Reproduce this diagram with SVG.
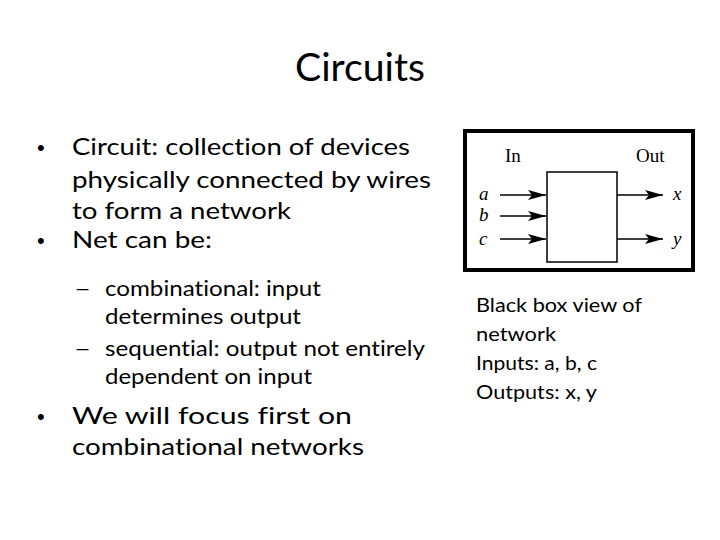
<svg xmlns="http://www.w3.org/2000/svg" width="720" height="540" viewBox="0 0 720 540">
<defs>
<style>
.t{font-family:Lato,"Liberation Sans",sans-serif;fill:#000;font-variant-ligatures:none}
.title{font-size:38px}
.b1{font-size:24px}
.b2{font-size:21px}
.side{font-size:19px}
.dot{font-family:"Liberation Sans",sans-serif;font-size:22px;fill:#000}
.fig{font-family:"Liberation Serif","DejaVu Serif",serif;fill:#000;font-size:19px}
.it{font-style:italic}
.wire{stroke:#000;stroke-width:1.3;fill:none}
</style>
<marker id="ah" viewBox="0 0 18 10" refX="18" refY="5" markerWidth="18" markerHeight="10" markerUnits="userSpaceOnUse" orient="auto">
<path d="M0,0 L18,5 L0,10 L4,5 Z" fill="#000"/>
</marker>
</defs>
<rect width="720" height="540" fill="#fff"/>
<g id="title"><text class="t title" x="295" y="81" textLength="130" lengthAdjust="spacingAndGlyphs">Circuits</text></g>
<g id="bullets">
<text class="dot" x="37" y="155">•</text>
<text class="t b1" x="72" y="155" textLength="338" lengthAdjust="spacingAndGlyphs">Circuit: collection of devices</text>
<text class="t b1" x="72" y="188" textLength="359" lengthAdjust="spacingAndGlyphs">physically connected by wires</text>
<text class="t b1" x="72" y="219" textLength="219" lengthAdjust="spacingAndGlyphs">to form a network</text>
<text class="dot" x="37" y="248">•</text>
<text class="t b1" x="72" y="248" textLength="140" lengthAdjust="spacingAndGlyphs">Net can be:</text>
<text class="t b2" x="74" y="296" textLength="17" lengthAdjust="spacingAndGlyphs">–</text>
<text class="t b2" x="105" y="296" textLength="216" lengthAdjust="spacingAndGlyphs">combinational: input</text>
<text class="t b2" x="105" y="324" textLength="196" lengthAdjust="spacingAndGlyphs">determines output</text>
<text class="t b2" x="74" y="356" textLength="17" lengthAdjust="spacingAndGlyphs">–</text>
<text class="t b2" x="105" y="356" textLength="320" lengthAdjust="spacingAndGlyphs">sequential: output not entirely</text>
<text class="t b2" x="105" y="384" textLength="207" lengthAdjust="spacingAndGlyphs">dependent on input</text>
<text class="dot" x="37" y="424">•</text>
<text class="t b1" x="72" y="424" textLength="280" lengthAdjust="spacingAndGlyphs">We will focus first on</text>
<text class="t b1" x="72" y="455" textLength="292" lengthAdjust="spacingAndGlyphs">combinational networks</text>
</g>
<g id="caption">
<text class="t side" x="476" y="312" textLength="166" lengthAdjust="spacingAndGlyphs">Black box view of</text>
<text class="t side" x="476" y="341" textLength="80" lengthAdjust="spacingAndGlyphs">network</text>
<text class="t side" x="476" y="370" textLength="121" lengthAdjust="spacingAndGlyphs">Inputs: a, b, c</text>
<text class="t side" x="476" y="399" textLength="121" lengthAdjust="spacingAndGlyphs">Outputs: x, y</text>
</g>
<g id="frame"><rect x="465" y="131" width="228" height="139" fill="#fff" stroke="#000" stroke-width="4"/></g>
<g id="blackbox"><rect x="547" y="172" width="70" height="90" fill="#fff" stroke="#000" stroke-width="1.5"/></g>
<g id="labels">
<text class="fig" x="505" y="162">In</text>
<text class="fig" x="636" y="162">Out</text>
<text class="fig it" x="479" y="200">a</text>
<text class="fig it" x="479" y="221">b</text>
<text class="fig it" x="479" y="245">c</text>
<text class="fig it" x="673" y="200">x</text>
<text class="fig it" x="673" y="245">y</text>
</g>
<g id="connectors">
<line class="wire" x1="500" y1="195" x2="546" y2="195" marker-end="url(#ah)"/>
<line class="wire" x1="500" y1="216" x2="546" y2="216" stroke-width="2" marker-end="url(#ah)"/>
<line class="wire" x1="500" y1="239" x2="546" y2="239" marker-end="url(#ah)"/>
<line class="wire" x1="617" y1="195" x2="663" y2="195" marker-end="url(#ah)"/>
<line class="wire" x1="617" y1="239" x2="663" y2="239" marker-end="url(#ah)"/>
</g>
</svg>
